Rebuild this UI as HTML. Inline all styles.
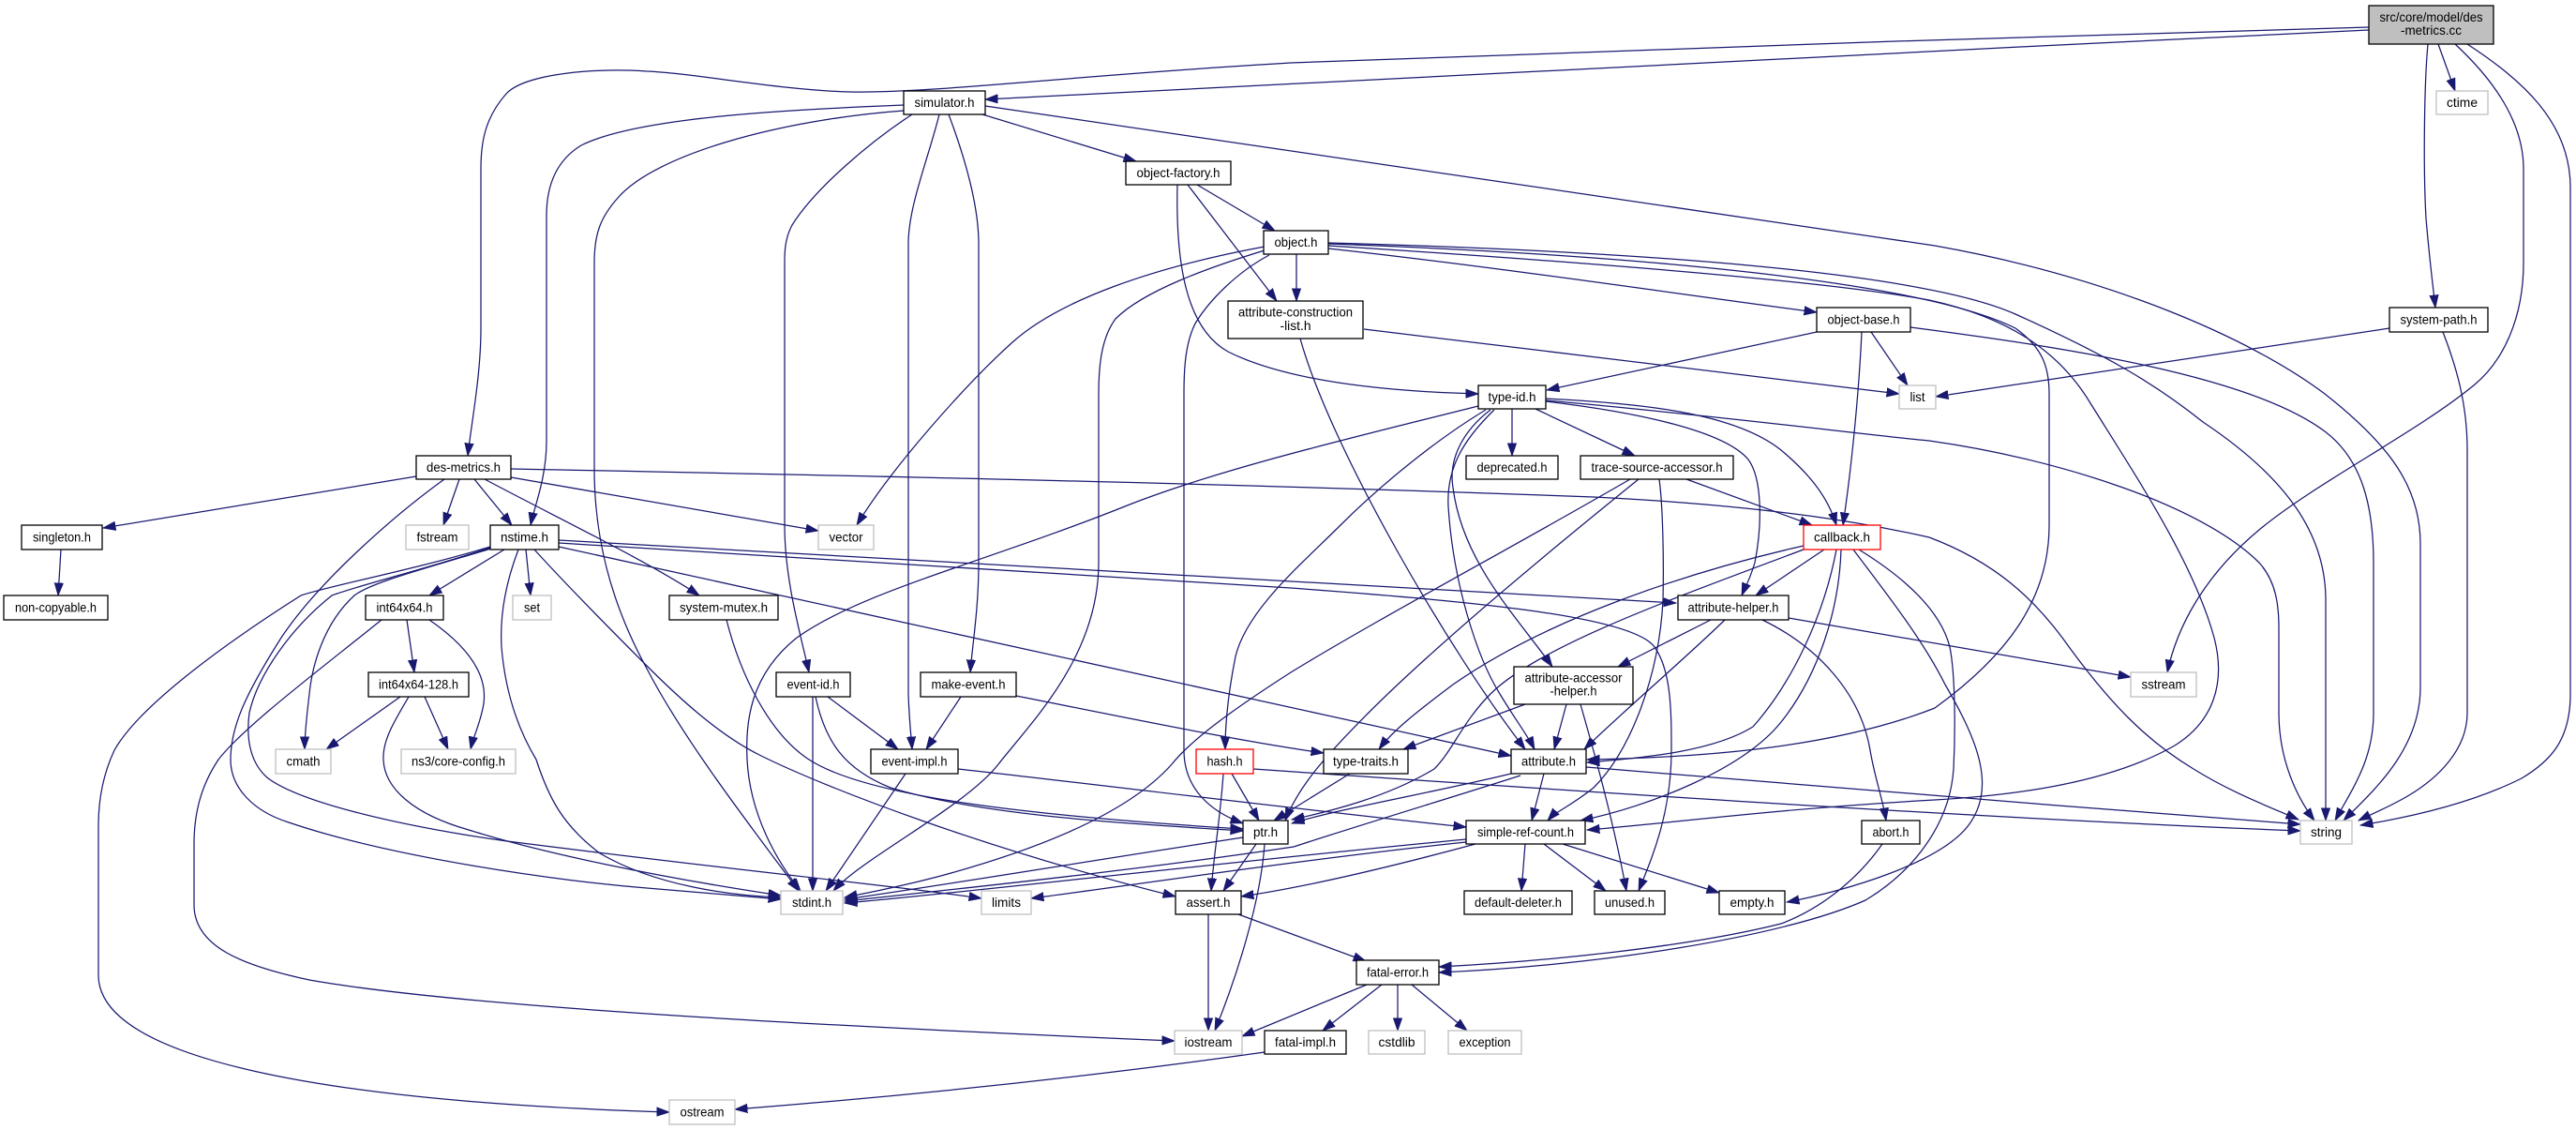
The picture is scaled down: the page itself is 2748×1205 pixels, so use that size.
<!DOCTYPE html>
<html><head><meta charset="utf-8">
<style>
html,body{margin:0;padding:0;background:#fff}
svg{display:block}
.e path{fill:none;stroke:#191970;stroke-width:1.25;marker-end:url(#a)}
.n rect{fill:#fff;stroke:#000;stroke-width:1.3}
.n rect.g{stroke:#bfbfbf}
.n rect.r{stroke:#ff0000}
.n rect.root{fill:#bfbfbf}
.n text{font-family:"Liberation Sans",Arial,sans-serif;font-size:14px;fill:#000;text-anchor:middle}
</style></head><body>
<svg width="2748" height="1205" viewBox="0 0 2748 1205">
<defs>
<marker id="a" markerWidth="15" markerHeight="11" refX="13.5" refY="5" orient="auto" markerUnits="userSpaceOnUse">
<path d="M0,0.3 L13.5,5 L0,9.7 z" fill="#191970" stroke="#191970" stroke-width="0.8"/>
</marker>
</defs>
<g class="e">
<!-- des-metrics.cc -->
<path d="M2527,29 C2200,37 1600,58 1377,67 C1150,80 990,100 907,98 C830,96 740,78 690,76 C640,72 560,78 540,100 C518,125 513,150 513,180 L513,350 C513,400 503,450 499,486"/>
<path d="M2527,32 C2000,57 1400,88 1051,106"/>
<path d="M2590,47 C2586,90 2585,180 2588,233 C2592,280 2596,310 2598,328"/>
<path d="M2601,47 L2619,97"/>
<path d="M2619,47 C2660,85 2692,130 2692,180 L2692,280 C2692,340 2670,385 2640,410 C2580,460 2470,515 2410,565 C2350,615 2322,670 2312,717"/>
<path d="M2632,47 C2690,85 2742,130 2742,200 L2742,740 C2742,790 2720,812 2690,830 C2640,855 2580,870 2518,880"/>
<!-- simulator.h -->
<path d="M1048,122 L1212,172"/>
<path d="M964,112 C840,117 680,125 620,155 C592,172 583,200 583,230 L583,470 C583,510 570,540 566,560"/>
<path d="M964,118 C830,128 700,165 660,210 C640,232 634,250 634,280 L634,500 C634,570 650,640 690,713 C730,790 800,880 852,950"/>
<path d="M973,122 C930,150 870,200 845,240 C837,255 837,270 837,280 L837,560 C837,620 855,680 863,717"/>
<path d="M1002,122 C990,170 969,220 969,260 L969,740 C970,770 972,785 973,799"/>
<path d="M1012,122 C1030,170 1044,220 1044,260 L1044,600 C1044,650 1037,690 1035,717"/>
<path d="M1051,113 L2064,262 C2250,295 2400,360 2480,420 C2550,475 2582,520 2582,580 L2582,733 C2582,800 2530,845 2500,875"/>
<!-- object-factory.h -->
<path d="M1277,197 L1360,246"/>
<path d="M1267,197 L1362,321"/>
<path d="M1256,197 C1254,280 1265,350 1310,375 C1380,410 1500,418 1577,420"/>
<!-- object.h -->
<path d="M1383,271 L1383,321"/>
<path d="M1417,265 C1600,285 1800,315 1938,333"/>
<path d="M1417,259 C1750,268 2050,290 2150,335 C2250,380 2300,410 2350,450 C2440,510 2481,570 2481,640 L2481,875"/>
<path d="M1417,260 C1750,272 2050,300 2150,350 C2178,370 2186,390 2186,420 L2186,560 C2186,640 2140,700 2064,755 C1950,800 1800,808 1693,810"/>
<path d="M1417,262 C1700,280 1950,300 2058,320 C2150,340 2200,380 2230,430 C2280,510 2340,600 2362,680 C2375,730 2360,770 2320,795 C2250,835 2150,848 2064,853 C1900,862 1780,878 1693,885"/>
<path d="M1349,263 C1230,285 1130,320 1080,365 C1030,410 950,500 914,560"/>
<path d="M1349,267 C1290,285 1220,310 1190,340 C1175,360 1172,390 1172,420 L1172,600 C1172,700 1100,770 1065,815 C1030,860 920,915 889,950"/>
<path d="M1354,272 C1320,290 1290,320 1275,345 C1265,365 1263,390 1263,420 L1263,800 C1263,840 1290,865 1326,878"/>
<!-- attribute-construction-list.h -->
<path d="M1455,351 L2026,420"/>
<path d="M1387,361 C1420,480 1550,700 1627,799"/>
<!-- object-base.h -->
<path d="M1938,354 L1650,416"/>
<path d="M1986,354 C1983,420 1975,500 1966,560"/>
<path d="M1996,354 L2035,411"/>
<path d="M2038,349 C2200,370 2400,400 2480,460 C2520,490 2532,540 2532,600 L2532,760 C2532,810 2510,840 2491,875"/>
<!-- system-path.h -->
<path d="M2549,350 L2065,423"/>
<path d="M2606,354 C2620,390 2632,430 2632,480 L2632,760 C2632,800 2600,830 2570,848 C2550,860 2530,868 2516,875"/>
<!-- type-id.h -->
<path d="M1613,436 L1613,486"/>
<path d="M1638,436 L1744,486"/>
<path d="M1649,425 C1750,430 1850,440 1900,480 C1930,505 1950,530 1959,560"/>
<path d="M1649,428 C1750,440 1840,460 1865,490 C1880,510 1880,560 1872,600 C1866,620 1860,630 1858,635"/>
<path d="M1649,427 C1850,445 2000,465 2058,470 C2200,490 2350,540 2410,600 C2428,620 2431,645 2431,670 L2431,760 C2431,810 2450,850 2469,875"/>
<path d="M1590,437 C1560,460 1545,490 1550,520 C1560,600 1620,660 1656,711"/>
<path d="M1594,437 C1560,470 1543,500 1545,540 C1550,620 1575,700 1600,740 C1615,765 1630,785 1637,799"/>
<path d="M1585,437 C1530,470 1470,520 1430,560 C1390,600 1330,650 1318,700 C1310,740 1307,770 1307,799"/>
<path d="M1577,433 C1450,465 1300,500 1200,540 C1050,600 920,630 850,680 C800,720 795,770 797,810 C800,870 830,920 854,950"/>
<!-- trace-source-accessor.h -->
<path d="M1799,511 L1933,560"/>
<path d="M1770,511 C1774,540 1775,600 1774,640 C1770,720 1740,800 1700,840 C1675,860 1660,865 1651,875"/>
<path d="M1739,511 C1620,580 1470,660 1377,717 C1310,760 1270,790 1250,815 C1210,860 1130,900 1000,935 C950,948 920,953 901,957"/>
<path d="M1748,511 C1650,590 1530,690 1460,760 C1410,810 1385,840 1371,875"/>
<!-- type-traits.h -->
<path d="M1440,825 L1359,875"/>
<!-- callback.h -->
<path d="M1946,586 L1873,635"/>
<path d="M1924,582 C1800,610 1650,660 1550,730 C1510,760 1485,780 1471,799"/>
<path d="M1924,586 C1780,640 1640,690 1590,740 C1560,770 1550,800 1530,820 C1480,850 1420,865 1378,874"/>
<path d="M1959,586 C1945,660 1910,730 1870,775 C1830,800 1760,808 1693,813"/>
<path d="M1964,586 C1962,650 1940,720 1900,770 C1860,820 1760,860 1686,875"/>
<path d="M1977,586 C2010,630 2050,680 2075,730 C2110,790 2130,840 2100,880 C2070,920 1970,950 1906,962"/>
<path d="M1983,586 C2030,615 2070,650 2080,690 C2086,720 2086,780 2084,820 C2080,880 2040,930 1990,960 C1900,1000 1700,1030 1535,1037"/>
<!-- abort.h -->
<path d="M2008,900 C1980,940 1940,970 1900,985 C1800,1010 1650,1025 1535,1031"/>
<!-- attribute-helper.h -->
<path d="M1880,661 C1940,690 1985,740 1995,800 C2000,830 2008,850 2012,875"/>
<path d="M1908,659 L2273,722"/>
<path d="M1825,661 L1726,711"/>
<path d="M1840,661 C1800,700 1730,760 1690,799"/>
<!-- attribute-accessor-helper.h -->
<path d="M1671,751 L1658,799"/>
<path d="M1627,751 L1497,799"/>
<path d="M1686,751 C1700,800 1720,870 1735,950"/>
<!-- attribute.h -->
<path d="M1612,825 C1530,845 1430,862 1378,878"/>
<path d="M1647,825 L1634,875"/>
<path d="M1622,827 C1550,850 1450,880 1380,903 C1200,930 1000,950 901,961"/>
<path d="M1692,818 C1900,835 2200,860 2454,879"/>
<!-- hash.h -->
<path d="M1337,820 C1700,845 2100,872 2454,886"/>
<path d="M1314,825 L1343,875"/>
<path d="M1305,825 C1302,870 1295,910 1292,950"/>
<!-- ptr.h -->
<path d="M1340,900 L1305,950"/>
<path d="M1349,900 C1345,960 1320,1040 1296,1099"/>
<path d="M1326,893 C1150,920 1000,945 901,959"/>
<!-- simple-ref-count.h -->
<path d="M1627,900 L1623,950"/>
<path d="M1647,900 L1713,950"/>
<path d="M1667,900 L1834,952"/>
<path d="M1574,900 C1500,920 1400,945 1324,956"/>
<path d="M1564,898 C1400,915 1200,945 1100,958"/>
<path d="M1564,895 C1300,920 1000,955 901,963"/>
<!-- assert.h -->
<path d="M1289,975 L1289,1099"/>
<path d="M1321,975 L1457,1025"/>
<!-- fatal-error.h -->
<path d="M1458,1050 L1325,1105"/>
<path d="M1474,1050 L1411,1099"/>
<path d="M1491,1050 L1491,1099"/>
<path d="M1506,1050 L1565,1099"/>
<!-- fatal-impl.h -->
<path d="M1349,1122 C1150,1150 950,1170 784,1183"/>
<!-- singleton.h -->
<path d="M65,586 L62,635"/>
<!-- des-metrics.h -->
<path d="M444,508 L110,563"/>
<path d="M490,511 L473,560"/>
<path d="M506,511 L546,560"/>
<path d="M517,511 C600,555 690,598 746,635"/>
<path d="M545,509 L873,566"/>
<path d="M545,500 C900,507 1300,515 1700,530 C1900,540 2000,560 2058,573 C2130,600 2170,640 2200,680 C2250,750 2290,790 2340,820 C2380,845 2420,860 2452,874"/>
<path d="M474,511 C420,550 340,620 300,680 C262,740 246,775 246,810 C246,840 270,865 308,877 C420,915 600,940 690,947 C750,952 800,956 833,959"/>
<!-- nstime.h -->
<path d="M523,584 C450,608 380,625 354,635 C310,670 275,720 266,760 C262,790 268,815 286,830 C320,855 420,880 541,897 C800,930 960,945 1047,958"/>
<path d="M523,583 C440,608 350,625 321,635 C250,680 150,750 122,800 C108,830 105,860 105,880 L105,1040 C105,1130 350,1175 714,1186"/>
<path d="M524,585 C440,610 395,622 378,635 C345,665 333,710 330,740 C327,765 325,785 325,799"/>
<path d="M538,586 L458,635"/>
<path d="M561,586 L566,635"/>
<path d="M553,586 C540,620 533,655 535,690 C540,750 560,790 572,810 C585,850 600,880 640,910 C700,945 780,955 833,957"/>
<path d="M570,586 C610,630 660,680 690,710 C730,750 770,785 810,805 C880,840 1050,905 1254,956"/>
<path d="M596,576 L1788,643"/>
<path d="M596,579 L1377,627 C1550,640 1740,655 1765,690 C1783,715 1783,760 1783,800 C1783,870 1760,920 1748,950"/>
<path d="M596,583 L1612,806"/>
<!-- int64x64.h -->
<path d="M434,661 L442,717"/>
<path d="M458,661 C500,690 520,720 516,750 C513,770 505,785 502,799"/>
<path d="M407,661 C340,715 260,775 233,810 C213,840 207,870 207,900 L207,965 C207,1010 260,1030 330,1045 C500,1075 900,1095 1253,1110"/>
<!-- int64x64-128.h -->
<path d="M427,743 L348,799"/>
<path d="M453,743 L478,799"/>
<path d="M436,743 C420,770 408,790 409,810 C410,840 440,868 500,885 C580,910 700,935 833,955"/>
<!-- system-mutex.h -->
<path d="M775,661 C790,720 820,780 860,808 C920,850 1100,870 1326,884"/>
<!-- event-id.h -->
<path d="M867,743 L867,950"/>
<path d="M883,743 L958,799"/>
<path d="M870,743 C880,790 900,820 950,840 C1050,870 1200,878 1326,886"/>
<!-- make-event.h -->
<path d="M1025,743 L988,799"/>
<path d="M1084,742 C1200,765 1320,790 1412,803"/>
<!-- event-impl.h -->
<path d="M966,825 L881,950"/>
<path d="M1022,820 C1200,840 1400,865 1564,882"/>
</g>
<g class="n">
<rect class="root" x="2527" y="6" width="133" height="41"/>
<text x="2593.5" y="23" textLength="110" lengthAdjust="spacingAndGlyphs">src/core/model/des</text>
<text x="2593.5" y="37" textLength="65" lengthAdjust="spacingAndGlyphs">-metrics.cc</text>

<rect x="964" y="97" width="87" height="25"/><text x="1007.5" y="114" textLength="64" lengthAdjust="spacingAndGlyphs">simulator.h</text>
<rect class="g" x="2599" y="97" width="55" height="25"/><text x="2626.5" y="114" textLength="33" lengthAdjust="spacingAndGlyphs">ctime</text>
<rect x="1201" y="172" width="112" height="25"/><text x="1257" y="189" textLength="89" lengthAdjust="spacingAndGlyphs">object-factory.h</text>
<rect x="1348" y="246" width="69" height="25"/><text x="1382.5" y="263" textLength="46" lengthAdjust="spacingAndGlyphs">object.h</text>
<rect x="1310" y="321" width="144" height="40"/>
<text x="1382" y="337.5" textLength="122" lengthAdjust="spacingAndGlyphs">attribute-construction</text>
<text x="1382" y="352" textLength="33" lengthAdjust="spacingAndGlyphs">-list.h</text>
<rect x="1938" y="328" width="100" height="26"/><text x="1988" y="345.5" textLength="77" lengthAdjust="spacingAndGlyphs">object-base.h</text>
<rect x="2549" y="328" width="105" height="26"/><text x="2601.5" y="345.5" textLength="82" lengthAdjust="spacingAndGlyphs">system-path.h</text>
<rect class="g" x="2026" y="411" width="39" height="25"/><text x="2045.5" y="428" textLength="16" lengthAdjust="spacingAndGlyphs">list</text>
<rect x="1577" y="411" width="72" height="25"/><text x="1613" y="428" textLength="51" lengthAdjust="spacingAndGlyphs">type-id.h</text>
<rect x="444" y="486" width="101" height="25"/><text x="494.5" y="503" textLength="79" lengthAdjust="spacingAndGlyphs">des-metrics.h</text>
<rect x="1564" y="486" width="98" height="25"/><text x="1613" y="503" textLength="75" lengthAdjust="spacingAndGlyphs">deprecated.h</text>
<rect x="1686" y="486" width="163" height="25"/><text x="1767.5" y="503" textLength="140" lengthAdjust="spacingAndGlyphs">trace-source-accessor.h</text>
<rect x="23" y="560" width="86" height="26"/><text x="66" y="577.5" textLength="62" lengthAdjust="spacingAndGlyphs">singleton.h</text>
<rect class="g" x="433" y="560" width="67" height="26"/><text x="466.5" y="577.5" textLength="44" lengthAdjust="spacingAndGlyphs">fstream</text>
<rect x="523" y="560" width="73" height="26"/><text x="559.5" y="577.5" textLength="51" lengthAdjust="spacingAndGlyphs">nstime.h</text>
<rect class="g" x="873" y="560" width="59" height="26"/><text x="902.5" y="577.5" textLength="36" lengthAdjust="spacingAndGlyphs">vector</text>
<rect class="r" x="1924" y="560" width="82" height="26"/><text x="1965" y="577.5" textLength="60" lengthAdjust="spacingAndGlyphs">callback.h</text>
<rect x="4" y="635" width="111" height="26"/><text x="59.5" y="652.5" textLength="87" lengthAdjust="spacingAndGlyphs">non-copyable.h</text>
<rect x="390" y="635" width="83" height="26"/><text x="431.5" y="652.5" textLength="60" lengthAdjust="spacingAndGlyphs">int64x64.h</text>
<rect class="g" x="547" y="635" width="41" height="26"/><text x="567.5" y="652.5" textLength="17" lengthAdjust="spacingAndGlyphs">set</text>
<rect x="714" y="635" width="116" height="26"/><text x="772" y="652.5" textLength="94" lengthAdjust="spacingAndGlyphs">system-mutex.h</text>
<rect x="1790" y="635" width="118" height="26"/><text x="1849" y="652.5" textLength="97" lengthAdjust="spacingAndGlyphs">attribute-helper.h</text>
<rect x="393" y="717" width="107" height="26"/><text x="446.5" y="734.5" textLength="85" lengthAdjust="spacingAndGlyphs">int64x64-128.h</text>
<rect x="828" y="717" width="79" height="26"/><text x="867.5" y="734.5" textLength="56" lengthAdjust="spacingAndGlyphs">event-id.h</text>
<rect x="982" y="717" width="102" height="26"/><text x="1033" y="734.5" textLength="79" lengthAdjust="spacingAndGlyphs">make-event.h</text>
<rect x="1615" y="711" width="127" height="40"/>
<text x="1678.5" y="727.5" textLength="104" lengthAdjust="spacingAndGlyphs">attribute-accessor</text>
<text x="1678.5" y="741.5" textLength="50" lengthAdjust="spacingAndGlyphs">-helper.h</text>
<rect class="g" x="2273" y="717" width="70" height="26"/><text x="2308" y="734.5" textLength="47" lengthAdjust="spacingAndGlyphs">sstream</text>
<rect class="g" x="294" y="799" width="59" height="26"/><text x="323.5" y="816.5" textLength="36" lengthAdjust="spacingAndGlyphs">cmath</text>
<rect class="g" x="428" y="799" width="122" height="26"/><text x="489" y="816.5" textLength="100" lengthAdjust="spacingAndGlyphs">ns3/core-config.h</text>
<rect x="929" y="799" width="93" height="26"/><text x="975.5" y="816.5" textLength="70" lengthAdjust="spacingAndGlyphs">event-impl.h</text>
<rect class="r" x="1276" y="799" width="61" height="26"/><text x="1306.5" y="816.5" textLength="38" lengthAdjust="spacingAndGlyphs">hash.h</text>
<rect x="1412" y="799" width="90" height="26"/><text x="1457" y="816.5" textLength="70" lengthAdjust="spacingAndGlyphs">type-traits.h</text>
<rect x="1612" y="799" width="80" height="26"/><text x="1652" y="816.5" textLength="58" lengthAdjust="spacingAndGlyphs">attribute.h</text>
<rect x="1326" y="875" width="48" height="25"/><text x="1350" y="892" textLength="26" lengthAdjust="spacingAndGlyphs">ptr.h</text>
<rect x="1564" y="875" width="127" height="25"/><text x="1627.5" y="892" textLength="103" lengthAdjust="spacingAndGlyphs">simple-ref-count.h</text>
<rect x="1986" y="875" width="62" height="25"/><text x="2017" y="892" textLength="39" lengthAdjust="spacingAndGlyphs">abort.h</text>
<rect class="g" x="2454" y="875" width="55" height="25"/><text x="2481.5" y="892" textLength="33" lengthAdjust="spacingAndGlyphs">string</text>
<rect class="g" x="833" y="950" width="66" height="25"/><text x="866" y="967" textLength="42" lengthAdjust="spacingAndGlyphs">stdint.h</text>
<rect class="g" x="1047" y="950" width="53" height="25"/><text x="1073.5" y="967" textLength="31" lengthAdjust="spacingAndGlyphs">limits</text>
<rect x="1254" y="950" width="70" height="25"/><text x="1289" y="967" textLength="47" lengthAdjust="spacingAndGlyphs">assert.h</text>
<rect x="1562" y="950" width="115" height="25"/><text x="1619.5" y="967" textLength="93" lengthAdjust="spacingAndGlyphs">default-deleter.h</text>
<rect x="1701" y="950" width="75" height="25"/><text x="1738.5" y="967" textLength="53" lengthAdjust="spacingAndGlyphs">unused.h</text>
<rect x="1834" y="950" width="70" height="25"/><text x="1869" y="967" textLength="47" lengthAdjust="spacingAndGlyphs">empty.h</text>
<rect x="1447" y="1024" width="88" height="26"/><text x="1491" y="1041.5" textLength="66" lengthAdjust="spacingAndGlyphs">fatal-error.h</text>
<rect class="g" x="1253" y="1099" width="72" height="25"/><text x="1289" y="1116" textLength="51" lengthAdjust="spacingAndGlyphs">iostream</text>
<rect x="1349" y="1099" width="87" height="25"/><text x="1392.5" y="1116" textLength="65" lengthAdjust="spacingAndGlyphs">fatal-impl.h</text>
<rect class="g" x="1460" y="1099" width="60" height="25"/><text x="1490" y="1116" textLength="39" lengthAdjust="spacingAndGlyphs">cstdlib</text>
<rect class="g" x="1545" y="1099" width="78" height="25"/><text x="1584" y="1116" textLength="55" lengthAdjust="spacingAndGlyphs">exception</text>
<rect class="g" x="714" y="1173" width="70" height="26"/><text x="749" y="1190.5" textLength="47" lengthAdjust="spacingAndGlyphs">ostream</text>
</g>
</svg>
</body></html>
